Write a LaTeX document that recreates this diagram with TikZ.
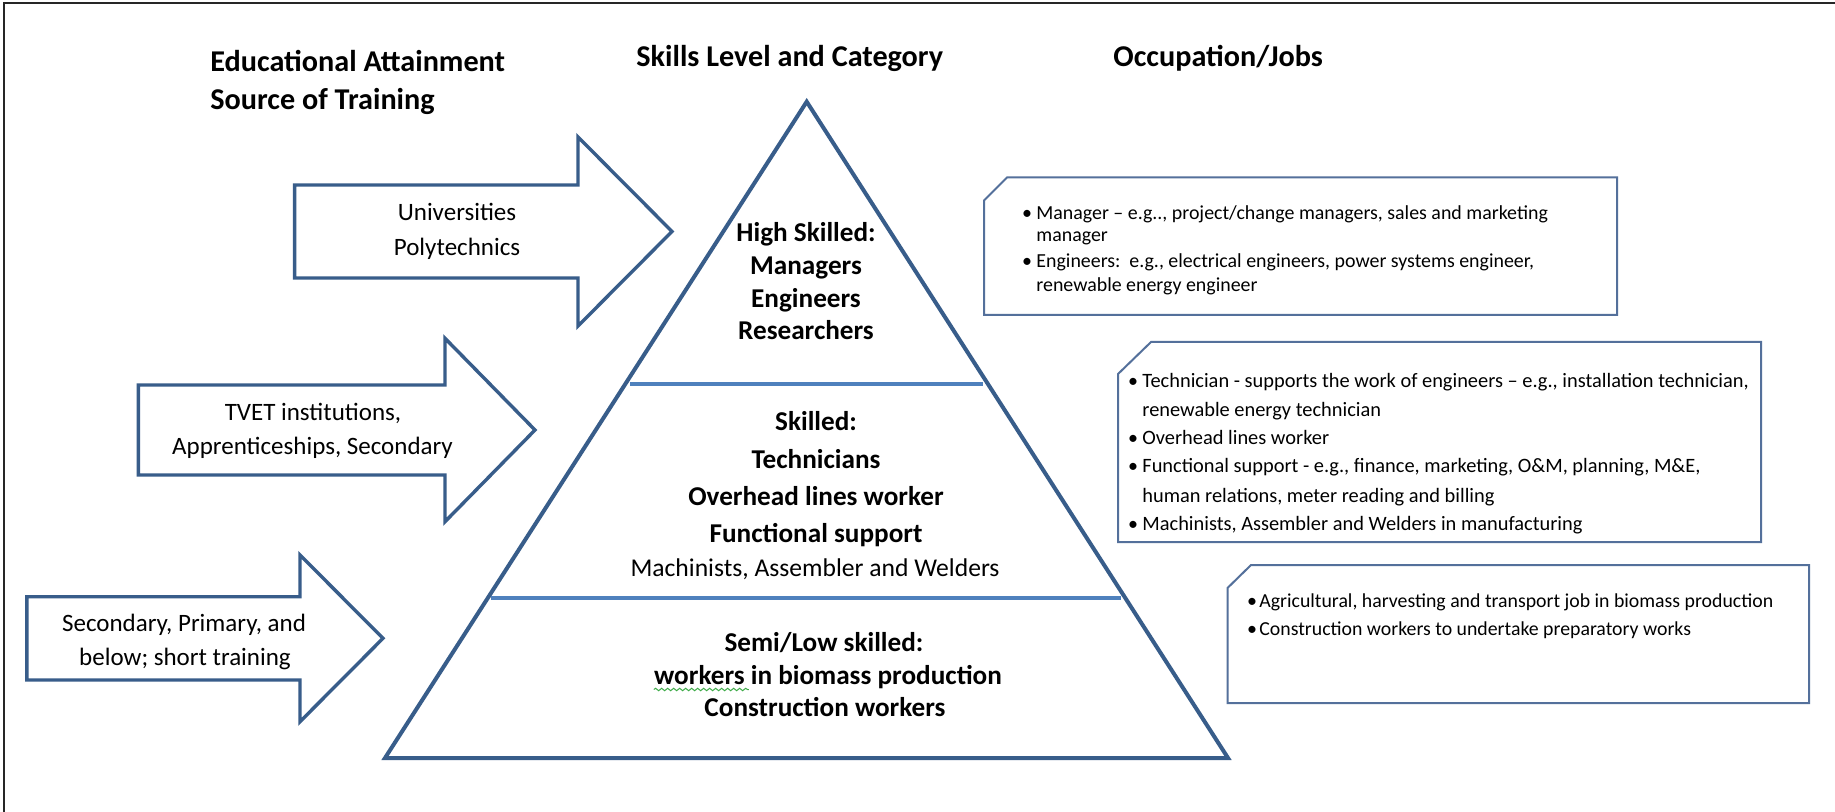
\documentclass[tikz,border=0pt]{standalone}
\usepackage{fontspec}
\setmainfont{Carlito}
\usetikzlibrary{decorations.pathmorphing}
\definecolor{outl}{RGB}{56,93,138}
\definecolor{divl}{RGB}{79,129,189}
\definecolor{boxl}{RGB}{84,112,155}
\definecolor{spell}{RGB}{60,170,70}
\begin{document}
\begin{tikzpicture}[x=0.5pt,y=-0.5pt,
  hdr/.style={font=\fontsize{15.1}{18}\selectfont\bfseries, inner sep=0pt, text height=9.6pt, text depth=0pt, anchor=west},
  tri/.style={font=\fontsize{13.6}{16}\selectfont\bfseries, inner sep=0pt, text height=8.7pt, text depth=0pt},
  trireg/.style={font=\fontsize{12.8}{15}\selectfont, inner sep=0pt, text height=8.2pt, text depth=0pt},
  arrtxt/.style={font=\fontsize{12.5}{15}\selectfont, inner sep=0pt, text height=8pt, text depth=0pt},
  boxtxt/.style={font=\fontsize{10.2}{12}\selectfont, inner sep=0pt, text height=6.5pt, text depth=0pt, anchor=west},
  boxtxtA/.style={font=\fontsize{9.95}{12}\selectfont, inner sep=0pt, text height=6.4pt, text depth=0pt, anchor=west},
  boxtxtC/.style={font=\fontsize{9.9}{12}\selectfont, inner sep=0pt, text height=6.4pt, text depth=0pt, anchor=west},
  bul/.style={font=\fontsize{10}{12}\selectfont, inner sep=0pt, text height=6.4pt, text depth=0pt},
  arrshape/.style={draw=outl, line width=1.7pt, fill=white, line join=miter},
  jobbox/.style={draw=boxl, line width=1pt},
  divider/.style={draw=divl, line width=2.3pt}
]
\useasboundingbox (0,0) rectangle (1835,812);
\fill[white] (0,0) rectangle (1835,812);
% frame
\draw[black!85, line width=1.2pt] (4,812) -- (4,3) -- (1835,3);

% headers
\node[hdr] (h1) at (210,62) {Educational Attainment};
\node[hdr] (h2) at (210,100) {Source of Training};
\node[hdr] (h3) at (636,57) {Skills Level and Category};
\node[hdr] (h4) at (1113,57) {Occupation/Jobs};

% pyramid
\draw[draw=outl, line width=2pt, line join=miter] (806.7,101.7) coordinate (apex) -- (1228,758) coordinate (br) -- (385,758) coordinate (bl) -- cycle;
\coordinate (d1l) at (630,384); \coordinate (d1r) at (983,384);
\coordinate (d2l) at (491,598); \coordinate (d2r) at (1121,598);
\draw[divider] (d1l) -- (d1r);
\draw[divider] (d2l) -- (d2r);

\node[tri] (t1) at (806,233) {High Skilled:};
\node[tri] (t2) at (806,266) {Managers};
\node[tri] (t3) at (806,299) {Engineers};
\node[tri] (t4) at (806,331) {Researchers};
\node[tri] (m1) at (816,422) {Skilled:};
\node[tri] (m2) at (816,460) {Technicians};
\node[tri] (m3) at (816,497) {Overhead lines worker};
\node[tri] (m4) at (816,534) {Functional support};
\node[trireg] (m5) at (815,568) {Machinists, Assembler and Welders};
\node[tri] (l1) at (824,643) {Semi/Low skilled:};
\node[tri] (l2) at (828,676) {workers in biomass production};
\node[tri] (l3) at (825,708) {Construction workers};
\draw[spell, line width=0.5pt, decorate, decoration={snake, amplitude=0.6pt, segment length=3pt}] ([yshift=-2.2pt]l2.south west) -- ++(95,0);

% arrows
\draw[arrshape] (294.6,185) -- (578,185) -- (578,137) -- (672,231.5) -- (578,326) -- (578,278) -- (294.6,278) -- cycle;
\draw[arrshape] (138.3,385) -- (445,385) -- (445,338.3) -- (535,430) -- (445,521.7) -- (445,475) -- (138.3,475) -- cycle;
\draw[arrshape] (26.8,596.7) -- (300,596.7) -- (300,555) -- (383,638.3) -- (300,721.7) -- (300,680) -- (26.8,680) -- cycle;

\node[arrtxt] (a1) at (457,213) {Universities};
\node[arrtxt] (a2) at (457,248) {Polytechnics};
\node[arrtxt] (b1) at (313,412) {TVET institutions,};
\node[arrtxt] (b2) at (312.5,446) {Apprenticeships, Secondary};
\node[arrtxt] (c1) at (184,623) {Secondary, Primary, and};
\node[arrtxt] (c2) at (185,657) {below; short training};

% job boxes
\draw[jobbox] (1007,177.5) -- (1617,177.5) -- (1617,315) -- (984,315) -- (984,200.5) -- cycle;
\draw[jobbox] (1151,342) -- (1761,342) -- (1761,542) -- (1118,542) -- (1118,374) -- cycle;
\draw[jobbox] (1251,565) -- (1809,565) -- (1809,703) -- (1227.5,703) -- (1227.5,588) -- cycle;

\node[bul] (p1b) at (1027,213) {•};
\node[boxtxtA] (p1) at (1036,213) {Manager – e.g.., project/change managers, sales and marketing};
\node[boxtxtA] (p2) at (1036,235) {manager};
\node[bul] (p3b) at (1027,261) {•};
\node[boxtxtA] (p3) at (1036,261) {Engineers:\ \ e.g., electrical engineers, power systems engineer,};
\node[boxtxtA] (p4) at (1036,285) {renewable energy engineer};

\node[bul] (q1b) at (1133,381) {•};
\node[boxtxt] (q1) at (1142,381) {Technician - supports the work of engineers – e.g., installation technician,};
\node[boxtxt] (q2) at (1142,410) {renewable energy technician};
\node[bul] (q3b) at (1133,438) {•};
\node[boxtxt] (q3) at (1142,438) {Overhead lines worker};
\node[bul] (q4b) at (1133,466) {•};
\node[boxtxt] (q4) at (1142,466) {Functional support - e.g., finance, marketing, O\&M, planning, M\&E,};
\node[boxtxt] (q5) at (1142,496) {human relations, meter reading and billing};
\node[bul] (q6b) at (1133,524) {•};
\node[boxtxt] (q6) at (1142,524) {Machinists, Assembler and Welders in manufacturing};

\node[bul] (r1b) at (1252,601) {•};
\node[boxtxtC] (r1) at (1259,601) {Agricultural, harvesting and transport job in biomass production};
\node[bul] (r2b) at (1252,629) {•};
\node[boxtxtC] (r2) at (1259,629) {Construction workers to undertake preparatory works};
\end{tikzpicture}
\end{document}
